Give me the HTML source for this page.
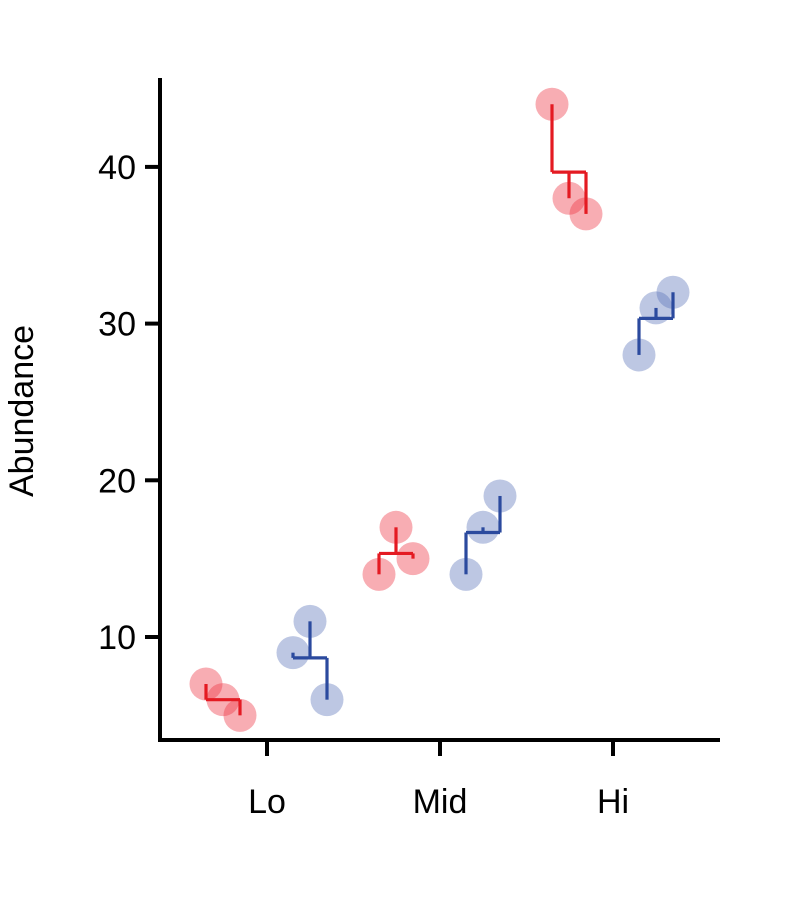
<!DOCTYPE html>
<html><head><meta charset="utf-8">
<style>
html,body{margin:0;padding:0;background:#fff;}
svg{display:block;font-family:"Liberation Sans",Arial,sans-serif;}
</style></head>
<body>
<svg id="chart" width="800" height="900" viewBox="0 0 800 900">
  <g id="axes"></g>
  <g id="marks"></g>
  <text x="0" y="0" transform="translate(33,411) rotate(-90)" text-anchor="middle" style="font-size:34px" fill="#000">Abundance</text>
</svg>
<script>
const categories = ["Lo", "Mid", "Hi"];
const redValues = [[7, 6, 5], [14, 17, 15], [44, 38, 37]];
const blueValues = [[9, 11, 6], [14, 17, 19], [28, 31, 32]];
const yTicks = [10, 20, 30, 40];

const NS = "http://www.w3.org/2000/svg";
function y(v) { return 637 - (v - 10) * 15.67; }
function xCenter(i) { return 267 + i * 173; }
const redOffsets = [-61, -44, -27];
const blueOffsets = [26, 43, 60];

function mk(tag, attrs, parent) {
  const e = document.createElementNS(NS, tag);
  for (const k in attrs) e.setAttribute(k, attrs[k]);
  parent.appendChild(e);
  return e;
}
const axes = document.getElementById("axes");
const marks = document.getElementById("marks");

let el = mk("line", {x1:160, y1:78, x2:160, y2:742, stroke:"#000", "stroke-width":4}, axes);


el = mk("line", {x1:158, y1:740, x2:720, y2:740, stroke:"#000", "stroke-width":4}, axes);



yTicks.forEach(t => {
  const tk = mk("line", {x1:145, y1:y(t), x2:160, y2:y(t), stroke:"#000", "stroke-width":4}, axes);
  
  
  const lb = mk("text", {x:136, y:y(t) + 12, "text-anchor":"end", style:"font-size:34px", fill:"#000"}, axes);
  lb.textContent = t;
  
  
});
categories.forEach((c, i) => {
  const tk = mk("line", {x1:xCenter(i), y1:740, x2:xCenter(i), y2:756, stroke:"#000", "stroke-width":4}, axes);
  
  
  const lb = mk("text", {x:xCenter(i), y:813, "text-anchor":"middle", style:"font-size:34px", fill:"#000"}, axes);
  lb.textContent = c;
  
  
});

function drawGroup(vals, offsets, i, fill, stroke, name) {
  const xs = offsets.map(o => xCenter(i) + o);
  vals.forEach((v, j) => {
    const c = mk("circle", {cx:xs[j], cy:y(v), r:16.5, fill:fill, "fill-opacity":0.4}, marks);
    
    
  });
  const mean = vals.reduce((a, b) => a + b, 0) / vals.length;
  const m = mk("line", {x1:xs[0], y1:y(mean), x2:xs[xs.length - 1], y2:y(mean), stroke:stroke, "stroke-width":3.2}, marks);
  
  
  vals.forEach((v, j) => {
    const s = mk("line", {x1:xs[j], y1:y(v), x2:xs[j], y2:y(mean), stroke:stroke, "stroke-width":3.2}, marks);
    
    
  });
}
categories.forEach((c, i) => {
  drawGroup(redValues[i], redOffsets, i, "#ee3340", "#e41a22", "red");
  drawGroup(blueValues[i], blueOffsets, i, "#5a72b8", "#2b4a9e", "blue");
});
</script>
</body></html>
